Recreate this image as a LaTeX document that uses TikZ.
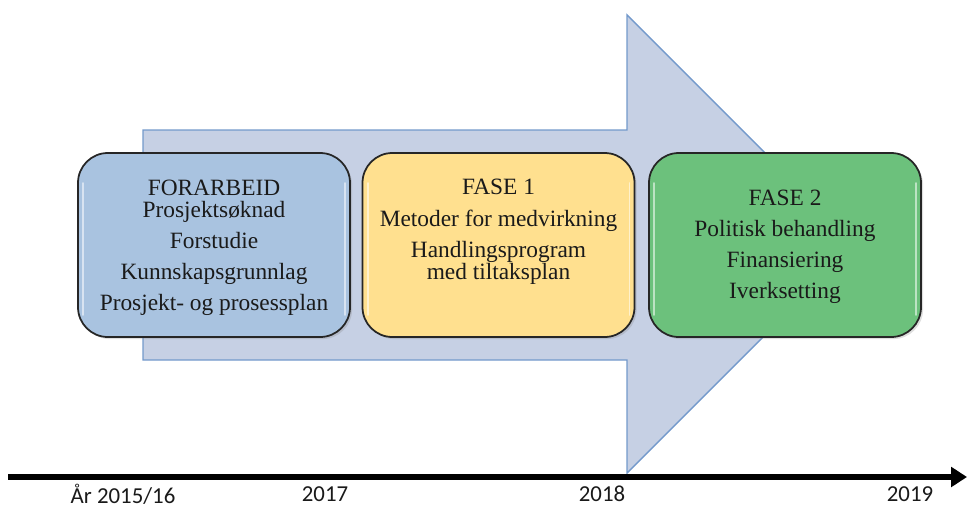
\documentclass[tikz,border=0pt]{standalone}
\usepackage{fontspec}
\setmainfont{Liberation Serif}
\newfontfamily\labelfont{Carlito}
\usetikzlibrary{arrows.meta,shadows}
\definecolor{arrowfill}{HTML}{C6D0E4}
\definecolor{arrowedge}{HTML}{7399CB}
\definecolor{boxblue}{HTML}{A9C3E0}
\definecolor{boxyellow}{HTML}{FFE08F}
\definecolor{boxgreen}{HTML}{6CC17C}
\definecolor{txt}{HTML}{1A1A1A}
\tikzset{
  phase/.style={draw=black!85, line width=1pt, rounded corners=17pt,
    minimum width=272*0.02cm, minimum height=184*0.02cm, inner sep=0pt,
    drop shadow={opacity=0.25, shadow xshift=1.2pt, shadow yshift=-1.2pt}},
  phasetext/.style={align=center, text=txt, font=\fontsize{13.3}{17.57}\selectfont, inner sep=0pt},
  yearlabel/.style={text=txt, font=\labelfont\fontsize{13}{15}\selectfont, inner sep=0pt},
  gloss/.style={white, line width=1pt, opacity=0.55, line cap=round}
}
\begin{document}
\begin{tikzpicture}[x=0.02cm, y=-0.02cm]
\useasboundingbox (0,0) rectangle (967,507);
% big arrow
\draw[fill=arrowfill, draw=arrowedge, line width=0.8pt]
  (143,130) -- (627,130) -- (627,15) -- (856,244) -- (627,473) -- (627,360) -- (143,360) -- cycle;
% phase boxes
\node[phase, fill=boxblue] (b1) at (214,245) {};
\node[phase, fill=boxyellow] (b2) at (498.5,245) {};
\node[phase, fill=boxgreen] (b3) at (785,245) {};
\foreach \b in {b1,b2,b3}{
  \draw[gloss] ([shift={(6,-62)}]\b.west) -- ([shift={(6,70)}]\b.west);
  \draw[gloss] ([shift={(-6,-62)}]\b.east) -- ([shift={(-6,70)}]\b.east);
}
\node[phasetext] (t1) at (214,248) {FORARBEID\\[-5.1pt]Prosjektsøknad\\Forstudie\\Kunnskapsgrunnlag\\Prosjekt- og prosessplan};
\node[phasetext] (t2) at (498.5,232) {FASE 1\\[0.6pt]Metoder for medvirkning\\Handlingsprogram\\[-5.1pt]med tiltaksplan};
\node[phasetext] (t3) at (785,247) {FASE 2\\Politisk behandling\\Finansiering\\Iverksetting};
% timeline
\coordinate (ls) at (8,477);
\coordinate (le) at (967,477);
\draw[line width=3.4pt, -{Triangle[length=9pt,width=11pt]}] (ls) -- (le);
\node[yearlabel] (y1) at (123,494) {År 2015/16};
\node[yearlabel] (y2) at (325,494) {2017};
\node[yearlabel] (y3) at (602,494) {2018};
\node[yearlabel] (y4) at (910,494) {2019};
\end{tikzpicture}
\end{document}
